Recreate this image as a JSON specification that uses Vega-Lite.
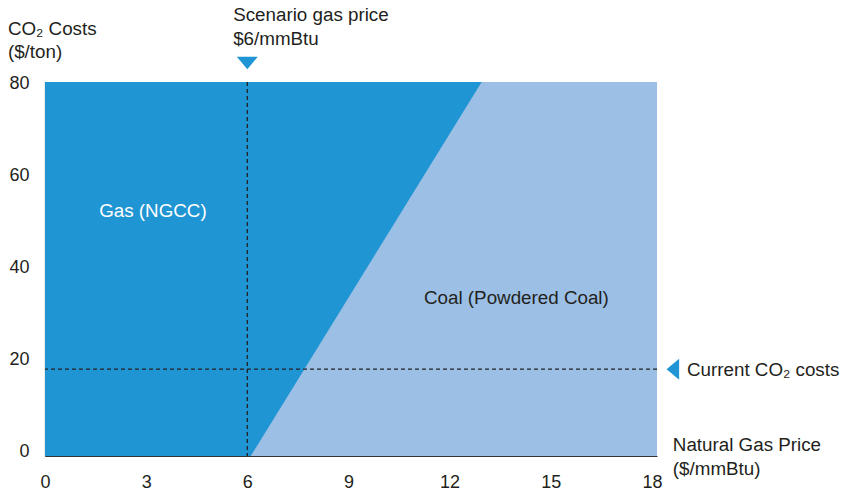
{
  "$schema": "https://vega.github.io/schema/vega-lite/v6.json",
  "width": 612,
  "height": 374,
  "autosize": {"type": "none"},
  "padding": {"left": 45, "top": 82, "right": 184, "bottom": 41},
  "background": "white",
  "view": {"fill": "#9BBFE5", "stroke": null},
  "config": {
    "font": "Liberation Sans",
    "text": {"fontSize": 18.8, "color": "#231F20", "baseline": "alphabetic"},
    "axis": {"labelFont": "Liberation Sans", "labelFontSize": 18, "labelColor": "#231F20", "ticks": false, "grid": false, "domainColor": "#333333", "domainWidth": 1.2, "labelFlush": false, "zindex": 1}
  },
  "datasets": {
    "boundary": [
      {"co2": -0.87, "gas": 6.1},
      {"co2": 80.43, "gas": 12.95}
    ],
    "one": [{}]
  },
  "layer": [
    {
      "data": {"name": "boundary"},
      "mark": {"type": "area", "orient": "horizontal", "color": "#1F95D3"},
      "encoding": {
        "y": {"field": "co2", "type": "quantitative", "scale": {"domain": [-0.87, 80.43], "nice": false, "zero": false},
              "axis": {"title": null, "values": [0, 20, 40, 60, 80], "labelPadding": 16}},
        "x": {"field": "gas", "type": "quantitative", "scale": {"domain": [0, 18.15], "nice": false, "zero": false},
              "axis": {"title": null, "values": [0, 3, 6, 9, 12, 15, 18], "labelPadding": 17}},
        "x2": {"datum": 0}
      }
    },
    {
      "data": {"name": "one"},
      "mark": {"type": "rule", "strokeDash": [4, 3], "color": "#222222", "strokeWidth": 1.3},
      "encoding": {"x": {"datum": 6}}
    },
    {
      "data": {"name": "one"},
      "mark": {"type": "rule", "strokeDash": [4, 3], "color": "#222222", "strokeWidth": 1.3},
      "encoding": {"y": {"datum": 18}}
    },
    {
      "data": {"name": "one"},
      "mark": {"type": "point", "filled": true, "opacity": 1, "color": "#1F95D6", "shape": "M-1,-0.6L1,-0.6L0,0.6Z", "size": 441},
      "encoding": {"x": {"datum": 6}, "y": {"datum": 84.57}}
    },
    {
      "data": {"name": "one"},
      "mark": {"type": "point", "filled": true, "opacity": 1, "color": "#1F95D6", "shape": "M-0.6,0L0.6,-1L0.6,1Z", "size": 441},
      "encoding": {"x": {"datum": 18.62}, "y": {"datum": 18}}
    },
    {
      "data": {"name": "one"},
      "mark": {"type": "text", "text": "Scenario gas price", "align": "left"},
      "encoding": {"x": {"datum": 5.58}, "y": {"datum": 93.7}}
    },
    {
      "data": {"name": "one"},
      "mark": {"type": "text", "text": "$6/mmBtu", "align": "left"},
      "encoding": {"x": {"datum": 5.58}, "y": {"datum": 88.48}}
    },
    {
      "data": {"name": "one"},
      "mark": {"type": "text", "text": "CO₂ Costs", "align": "left"},
      "encoding": {"x": {"datum": -1.1}, "y": {"datum": 90.65}}
    },
    {
      "data": {"name": "one"},
      "mark": {"type": "text", "text": "($/ton)", "align": "left"},
      "encoding": {"x": {"datum": -1.1}, "y": {"datum": 85.65}}
    },
    {
      "data": {"name": "one"},
      "mark": {"type": "text", "text": "Gas (NGCC)", "align": "center", "color": "#FFFFFF"},
      "encoding": {"x": {"datum": 3.2}, "y": {"datum": 51.09}}
    },
    {
      "data": {"name": "one"},
      "mark": {"type": "text", "text": "Coal (Powdered Coal)", "align": "center"},
      "encoding": {"x": {"datum": 13.98}, "y": {"datum": 32.17}}
    },
    {
      "data": {"name": "one"},
      "mark": {"type": "text", "text": "Current CO₂ costs", "align": "left"},
      "encoding": {"x": {"datum": 19.04}, "y": {"datum": 16.52}}
    },
    {
      "data": {"name": "one"},
      "mark": {"type": "text", "text": "Natural Gas Price", "align": "left"},
      "encoding": {"x": {"datum": 18.62}, "y": {"datum": 0.22}}
    },
    {
      "data": {"name": "one"},
      "mark": {"type": "text", "text": "($/mmBtu)", "align": "left"},
      "encoding": {"x": {"datum": 18.62}, "y": {"datum": -5.0}}
    }
  ]
}
